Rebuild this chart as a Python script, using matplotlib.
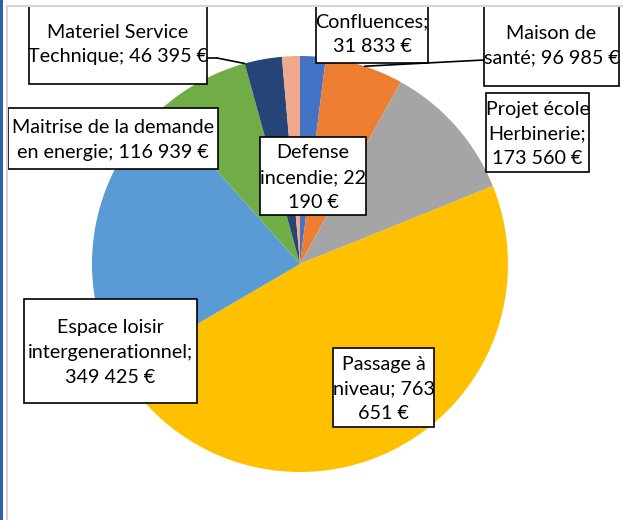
import textwrap
import numpy as np
import matplotlib.pyplot as plt
from matplotlib.patches import Rectangle, ConnectionPatch

# donnees du graphique (montants en euros)
projets = ["Confluences", "Maison de santé", "Projet école Herbinerie",
           "Passage à niveau", "Espace loisir intergenerationnel",
           "Maitrise de la demande en energie", "Materiel Service Technique",
           "Defense incendie"]
montants = [31833, 96985, 173560, 763651, 349425, 116939, 46395, 22190]
couleurs = ["#4472C4", "#ED7D31", "#A5A5A5", "#FFC000", "#5B9BD5",
            "#70AD47", "#264478", "#F1A98C"]

# coupure du texte (nb de caracteres) et boite de chaque etiquette en pixels (x0, y0, x1, y1)
coupures = [12, 15, 12, 11, 19, 22, 19, 12]
boites = [(316, 2, 428, 63), (484, 2, 619, 86), (486, 93, 589, 172), (333, 348, 434, 427),
          (24, 299, 197, 403), (8, 108, 218, 169), (29, 2, 207, 84), (260, 137, 366, 215)]

W, H = 623, 520


def euros(v):
    return "{:,}".format(v).replace(",", " ") + " €"


fig = plt.figure(figsize=(W / 100, H / 100), dpi=100)

# le camembert : centre (300, 264), rayon 208 px
cx, cy, r = 300, 264, 208
ax = fig.add_axes([(cx - r) / W, (H - cy - r) / H, 2 * r / W, 2 * r / H])
wedges, _ = ax.pie(montants, colors=couleurs, startangle=90, counterclock=False,
                   radius=1, wedgeprops={"linewidth": 0})
ax.set_xlim(-1, 1)
ax.set_ylim(-1, 1)
ax.set_aspect("equal")
ax.axis("off")

# calque en pixels pour les etiquettes
ov = fig.add_axes([0, 0, 1, 1])
ov.set_xlim(0, W)
ov.set_ylim(H, 0)
ov.axis("off")
ov.patch.set_alpha(0)

for i in range(len(projets)):
    texte = textwrap.fill(projets[i] + "; " + euros(montants[i]), coupures[i])
    x0, y0, x1, y1 = boites[i]
    ov.add_patch(Rectangle((x0, y0), x1 - x0, y1 - y0, facecolor="white",
                           edgecolor="black", linewidth=1.2, zorder=3))
    ov.text((x0 + x1) / 2, (y0 + y1) / 2 + 1.5, texte, ha="center", va="center",
            fontsize=14.2, family="Lato", linespacing=1.55, zorder=4)

# lignes de rappel
w = wedges[6]
a = np.radians(w.theta2)
ov.plot([207, 217], [58, 58], color="black", linewidth=1.2, zorder=2)
fig.add_artist(ConnectionPatch(xyA=(217, 58), coordsA=ov.transData,
                               xyB=(np.cos(a), np.sin(a)), coordsB=ax.transData,
                               color="black", linewidth=1.2))
w = wedges[1]
a = np.radians((w.theta1 + w.theta2) / 2)
fig.add_artist(ConnectionPatch(xyA=(484, 60), coordsA=ov.transData,
                               xyB=(np.cos(a), np.sin(a)), coordsB=ax.transData,
                               color="black", linewidth=1.2))

# cadre de la fenetre
ov.add_patch(Rectangle((0, 0), W, 5, facecolor="white", edgecolor="none", zorder=5))
ov.plot([6.5, W], [5.5, 5.5], color="#D4D4D4", linewidth=1.5, zorder=6)
ov.plot([6.5, 6.5], [5.5, H], color="#D4D4D4", linewidth=1.5, zorder=6)
ov.add_patch(Rectangle((0, 0), 2.5, H, facecolor="#2E5FAA", edgecolor="none", zorder=6))

fig.savefig("out.png", dpi=100)
